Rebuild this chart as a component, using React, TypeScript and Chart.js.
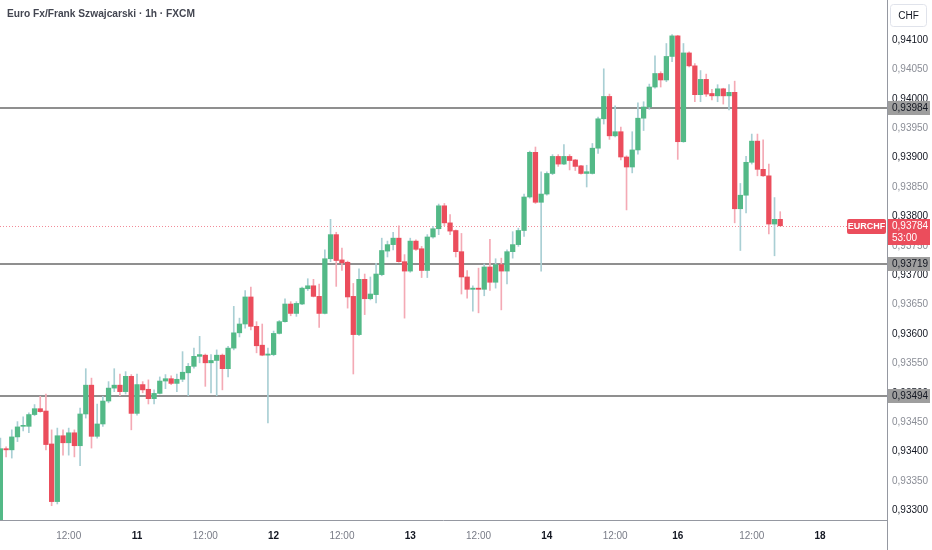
import React, { useEffect, useRef } from "react";
import { Chart, registerables } from "chart.js";

Chart.register(...registerables);

// ---- data (EUR/CHF, 1h candles) ----
const opens = [
  0.93259, 0.93405, 0.93403, 0.93425, 0.93443, 0.93443, 0.93463, 0.93473, 0.93469, 0.93413,
  0.93315, 0.93427, 0.93415, 0.93432, 0.93410, 0.93464, 0.93513, 0.93426, 0.93447, 0.93486,
  0.93508, 0.93513, 0.93502, 0.93528, 0.93465, 0.93514, 0.93506, 0.93490, 0.93499, 0.93520,
  0.93524, 0.93516, 0.93523, 0.93534, 0.93545, 0.93562, 0.93564, 0.93551, 0.93555, 0.93564,
  0.93541, 0.93576, 0.93602, 0.93617, 0.93663, 0.93613, 0.93581, 0.93564, 0.93565, 0.93601,
  0.93621, 0.93651, 0.93635, 0.93651, 0.93677, 0.93682, 0.93664, 0.93635, 0.93728, 0.93769,
  0.93726, 0.93722, 0.93664, 0.93599, 0.93693, 0.93660, 0.93667, 0.93701, 0.93741, 0.93752,
  0.93763, 0.93723, 0.93707, 0.93758, 0.93745, 0.93708, 0.93765, 0.93779, 0.93818, 0.93789,
  0.93776, 0.93740, 0.93697, 0.93676, 0.93678, 0.93676, 0.93714, 0.93688, 0.93718, 0.93707,
  0.93740, 0.93752, 0.93776, 0.93833, 0.93909, 0.93824, 0.93838, 0.93873, 0.93902, 0.93889,
  0.93902, 0.93896, 0.93886, 0.93873, 0.93873, 0.93916, 0.93966, 0.94004, 0.93937, 0.93944,
  0.93901, 0.93884, 0.93913, 0.93967, 0.93986, 0.94020, 0.94043, 0.94032, 0.94072, 0.94107,
  0.93927, 0.94078, 0.94056, 0.94007, 0.94033, 0.94009, 0.94005, 0.94017, 0.94005, 0.94011,
  0.93813, 0.93836, 0.93892, 0.93928, 0.93880, 0.93869, 0.93787, 0.93795,
];
const highs = [
  0.93423, 0.93408, 0.93437, 0.93451, 0.93459, 0.93466, 0.93480, 0.93494, 0.93498, 0.93437,
  0.93440, 0.93437, 0.93440, 0.93437, 0.93474, 0.93541, 0.93525, 0.93481, 0.93494, 0.93519,
  0.93541, 0.93532, 0.93536, 0.93531, 0.93532, 0.93519, 0.93522, 0.93505, 0.93527, 0.93531,
  0.93529, 0.93532, 0.93570, 0.93550, 0.93576, 0.93596, 0.93566, 0.93565, 0.93573, 0.93566,
  0.93579, 0.93647, 0.93627, 0.93674, 0.93680, 0.93621, 0.93617, 0.93576, 0.93605, 0.93623,
  0.93660, 0.93655, 0.93655, 0.93680, 0.93694, 0.93693, 0.93685, 0.93743, 0.93795, 0.93773,
  0.93746, 0.93724, 0.93686, 0.93711, 0.93702, 0.93697, 0.93720, 0.93763, 0.93758, 0.93773,
  0.93784, 0.93735, 0.93763, 0.93760, 0.93749, 0.93769, 0.93783, 0.93821, 0.93822, 0.93803,
  0.93777, 0.93771, 0.93708, 0.93682, 0.93712, 0.93719, 0.93761, 0.93728, 0.93729, 0.93743,
  0.93774, 0.93780, 0.93838, 0.93911, 0.93918, 0.93876, 0.93876, 0.93905, 0.93905, 0.93922,
  0.93905, 0.93897, 0.93887, 0.93887, 0.93924, 0.93969, 0.94051, 0.94008, 0.93988, 0.93952,
  0.93903, 0.93944, 0.93993, 0.93995, 0.94025, 0.94073, 0.94046, 0.94094, 0.94109, 0.94108,
  0.94094, 0.94080, 0.94060, 0.94048, 0.94042, 0.94016, 0.94024, 0.94018, 0.94024, 0.94030,
  0.93856, 0.93902, 0.93940, 0.93940, 0.93930, 0.93889, 0.93832, 0.93808,
];
const lows = [
  0.93250, 0.93391, 0.93389, 0.93417, 0.93435, 0.93432, 0.93461, 0.93467, 0.93403, 0.93308,
  0.93311, 0.93394, 0.93394, 0.93391, 0.93376, 0.93457, 0.93406, 0.93423, 0.93443, 0.93483,
  0.93502, 0.93495, 0.93498, 0.93437, 0.93462, 0.93500, 0.93481, 0.93481, 0.93498, 0.93507,
  0.93514, 0.93502, 0.93519, 0.93495, 0.93542, 0.93551, 0.93511, 0.93500, 0.93495, 0.93505,
  0.93527, 0.93573, 0.93595, 0.93610, 0.93607, 0.93568, 0.93563, 0.93449, 0.93563, 0.93600,
  0.93620, 0.93631, 0.93630, 0.93650, 0.93674, 0.93663, 0.93611, 0.93634, 0.93723, 0.93681,
  0.93708, 0.93644, 0.93532, 0.93597, 0.93633, 0.93658, 0.93653, 0.93699, 0.93731, 0.93743,
  0.93722, 0.93627, 0.93705, 0.93742, 0.93696, 0.93696, 0.93763, 0.93769, 0.93784, 0.93769,
  0.93731, 0.93668, 0.93661, 0.93639, 0.93636, 0.93665, 0.93674, 0.93678, 0.93641, 0.93685,
  0.93729, 0.93749, 0.93766, 0.93831, 0.93822, 0.93707, 0.93836, 0.93871, 0.93885, 0.93888,
  0.93879, 0.93878, 0.93872, 0.93850, 0.93872, 0.93907, 0.93957, 0.93931, 0.93935, 0.93896,
  0.93811, 0.93874, 0.93906, 0.93946, 0.93982, 0.94018, 0.94020, 0.94029, 0.94063, 0.93897,
  0.93926, 0.94054, 0.93995, 0.93995, 0.94004, 0.93998, 0.93995, 0.93991, 0.93981, 0.93789,
  0.93742, 0.93806, 0.93889, 0.93869, 0.93868, 0.93770, 0.93733, 0.93784,
];
const closes = [
  0.93405, 0.93403, 0.93425, 0.93442, 0.93444, 0.93463, 0.93473, 0.93468, 0.93412, 0.93315,
  0.93427, 0.93415, 0.93432, 0.93410, 0.93464, 0.93513, 0.93426, 0.93447, 0.93486, 0.93508,
  0.93513, 0.93502, 0.93528, 0.93465, 0.93514, 0.93505, 0.93490, 0.93499, 0.93520, 0.93524,
  0.93516, 0.93523, 0.93535, 0.93545, 0.93562, 0.93565, 0.93551, 0.93555, 0.93564, 0.93541,
  0.93576, 0.93602, 0.93617, 0.93663, 0.93613, 0.93580, 0.93564, 0.93566, 0.93601, 0.93621,
  0.93651, 0.93635, 0.93652, 0.93678, 0.93682, 0.93664, 0.93635, 0.93728, 0.93769, 0.93725,
  0.93721, 0.93663, 0.93599, 0.93693, 0.93660, 0.93668, 0.93702, 0.93742, 0.93752, 0.93763,
  0.93723, 0.93707, 0.93758, 0.93744, 0.93708, 0.93765, 0.93779, 0.93818, 0.93789, 0.93775,
  0.93740, 0.93697, 0.93676, 0.93678, 0.93676, 0.93714, 0.93688, 0.93718, 0.93707, 0.93740,
  0.93752, 0.93776, 0.93833, 0.93909, 0.93824, 0.93838, 0.93873, 0.93902, 0.93889, 0.93902,
  0.93895, 0.93885, 0.93873, 0.93876, 0.93916, 0.93966, 0.94004, 0.93937, 0.93944, 0.93901,
  0.93884, 0.93913, 0.93967, 0.93986, 0.94020, 0.94043, 0.94032, 0.94072, 0.94107, 0.93927,
  0.94078, 0.94056, 0.94007, 0.94033, 0.94008, 0.94005, 0.94017, 0.94005, 0.94011, 0.93813,
  0.93836, 0.93892, 0.93928, 0.93880, 0.93869, 0.93787, 0.93795, 0.93784,
];

const xTickIndex = [12, 24, 36, 48, 60, 72, 84, 96, 108, 119, 132, 144];
const xTickLabels = ["12:00", "11", "12:00", "12", "12:00", "13", "12:00", "14", "12:00", "16", "12:00", "18"];
const priceTicks = [
  0.933, 0.9335, 0.934, 0.9345, 0.935, 0.9355, 0.936, 0.9365, 0.937, 0.9375, 0.938, 0.9385,
  0.939, 0.9395, 0.94, 0.9405, 0.941,
];
const levelPrices = [0.93984, 0.93719, 0.93494];
const lastPrice = 0.93784;
const symbol = "EURCHF";
const countdown = "53:00";
const currency = "CHF";
const title = "Euro Fx/Frank Szwajcarski \u00b7 1h \u00b7 FXCM";

// ---- styling ----
const UP = "#53b987";
const DOWN = "#eb4d5c";
const UP_WICK = "#a9cfd4";
const DOWN_WICK = "#f4aab5";
const FONT = "'Liberation Sans', 'DejaVu Sans', sans-serif";

const fmt = (v: number) => v.toFixed(5).replace(".", ",");

function roundRect(ctx: CanvasRenderingContext2D, x: number, y: number, w: number, h: number, r: number) {
  ctx.beginPath();
  ctx.moveTo(x + r, y);
  ctx.lineTo(x + w - r, y);
  ctx.quadraticCurveTo(x + w, y, x + w, y + r);
  ctx.lineTo(x + w, y + h - r);
  ctx.quadraticCurveTo(x + w, y + h, x + w - r, y + h);
  ctx.lineTo(x + r, y + h);
  ctx.quadraticCurveTo(x, y + h, x, y + h - r);
  ctx.lineTo(x, y + r);
  ctx.quadraticCurveTo(x, y, x + r, y);
  ctx.closePath();
}

const overlayPlugin = {
  id: "tvOverlay",
  beforeDatasetsDraw(chart: any) {
    const { ctx, chartArea, scales } = chart;
    const y = scales.y;
    ctx.save();
    ctx.strokeStyle = "#8f8f8f";
    ctx.lineWidth = 2;
    levelPrices.forEach((p) => {
      const py = Math.round(y.getPixelForValue(p));
      ctx.beginPath();
      ctx.moveTo(chartArea.left, py);
      ctx.lineTo(chartArea.right, py);
      ctx.stroke();
    });
    const ly = Math.round(y.getPixelForValue(lastPrice)) + 0.5;
    ctx.strokeStyle = "#f28b98";
    ctx.lineWidth = 1;
    ctx.setLineDash([1, 2]);
    ctx.beginPath();
    ctx.moveTo(chartArea.left, ly);
    ctx.lineTo(chartArea.right, ly);
    ctx.stroke();
    ctx.restore();
  },
  afterDraw(chart: any) {
    const { ctx, chartArea, scales, height } = chart;
    const y = scales.y;
    ctx.save();
    ctx.strokeStyle = "#9598a1";
    ctx.lineWidth = 1;
    ctx.beginPath();
    ctx.moveTo(chartArea.right + 0.5, 0);
    ctx.lineTo(chartArea.right + 0.5, height);
    ctx.moveTo(0, chartArea.bottom + 0.5);
    ctx.lineTo(chartArea.right, chartArea.bottom + 0.5);
    ctx.stroke();

    ctx.fillStyle = "#434651";
    ctx.font = `bold 10.2px ${FONT}`;
    ctx.textAlign = "left";
    ctx.textBaseline = "middle";
    ctx.fillText(title, 7, 14);

    ctx.strokeStyle = "#e0e3eb";
    roundRect(ctx, chartArea.right + 3.5, 4.5, 36, 22, 3);
    ctx.stroke();
    ctx.fillStyle = "#131722";
    ctx.font = `10px ${FONT}`;
    ctx.textAlign = "center";
    ctx.fillText(currency, chartArea.right + 21.5, 16);

    levelPrices.forEach((p) => {
      const py = Math.round(y.getPixelForValue(p));
      ctx.fillStyle = "#9e9e9e";
      ctx.fillRect(chartArea.right + 1, py - 7, 42, 14);
      ctx.fillStyle = "#131722";
      ctx.font = `10px ${FONT}`;
      ctx.textAlign = "left";
      ctx.fillText(fmt(p), chartArea.right + 5, py + 0.5);
    });

    const ly = Math.round(y.getPixelForValue(lastPrice));
    ctx.fillStyle = DOWN;
    ctx.fillRect(chartArea.right + 1, ly - 7, 42, 26);
    ctx.fillStyle = "#ffffff";
    ctx.font = `10px ${FONT}`;
    ctx.textAlign = "left";
    ctx.fillText(fmt(lastPrice), chartArea.right + 5, ly + 0.5);
    ctx.fillText(countdown, chartArea.right + 5, ly + 12.5);

    ctx.fillStyle = DOWN;
    roundRect(ctx, chartArea.right - 40, ly - 7, 39, 15, 2);
    ctx.fill();
    ctx.fillStyle = "#ffffff";
    ctx.font = `bold 9px ${FONT}`;
    ctx.textAlign = "center";
    ctx.fillText(symbol, chartArea.right - 20.5, ly + 0.5);
    ctx.restore();
  },
};

export default function App() {
  const ref = useRef<HTMLCanvasElement>(null);
  useEffect(() => {
    document.body.style.margin = "0";
    const idx = opens.map((_, i) => i);
    const up = idx.map((i) => closes[i] >= opens[i]);
    const chart = new Chart(ref.current!, {
      type: "bar",
      data: {
        datasets: [
          {
            label: "body",
            data: idx.map((i) => ({ x: i, y: [opens[i], closes[i]] })) as any,
            backgroundColor: idx.map((i) => (up[i] ? UP : DOWN)),
            borderWidth: 0,
            barThickness: 4.6,
            minBarLength: 1,
            grouped: false,
            order: 0,
          } as any,
          {
            label: "wick",
            data: idx.map((i) => ({ x: i, y: [lows[i], highs[i]] })) as any,
            backgroundColor: idx.map((i) => (up[i] ? UP_WICK : DOWN_WICK)),
            borderWidth: 0,
            barThickness: 1,
            grouped: false,
            order: 1,
          } as any,
        ],
      },
      options: {
        animation: false,
        responsive: false,
        devicePixelRatio: 1,
        layout: { padding: 0 },
        plugins: { legend: { display: false }, tooltip: { enabled: false } },
        events: [],
        scales: {
          x: {
            type: "linear",
            min: -0.07,
            max: 155.76,
            offset: false,
            grid: { display: false, drawTicks: false },
            border: { display: false },
            afterBuildTicks: (s: any) => {
              s.ticks = xTickIndex.map((v) => ({ value: v }));
            },
            afterFit: (s: any) => {
              s.height = 30;
              s.paddingLeft = 0;
              s.paddingRight = 0;
            },
            ticks: {
              autoSkip: false,
              maxRotation: 0,
              padding: 10,
              callback: (_v: any, i: number) => xTickLabels[i],
              font: (c: any) => ({
                family: FONT,
                size: 10,
                weight: xTickLabels[c.index] && xTickLabels[c.index].includes(":") ? "normal" : "bold",
              }),
              color: (c: any) =>
                xTickLabels[c.index] && xTickLabels[c.index].includes(":") ? "#787b86" : "#131722",
            },
          } as any,
          y: {
            type: "linear",
            position: "right",
            min: 0.932837,
            max: 0.94168,
            grid: { display: false, drawTicks: false },
            border: { display: false },
            afterBuildTicks: (s: any) => {
              s.ticks = priceTicks.map((v) => ({ value: v }));
            },
            afterFit: (s: any) => {
              s.width = 45;
              s.paddingTop = 0;
              s.paddingBottom = 0;
            },
            ticks: {
              padding: 5,
              callback: (v: any) => fmt(Number(v)),
              font: { family: FONT, size: 10 },
              color: (c: any) => (c.index % 2 === 0 ? "#131722" : "#8a8d96"),
            },
          } as any,
        },
      },
      plugins: [overlayPlugin],
    });
    return () => chart.destroy();
  }, []);
  return (
    <div style={{ width: 932, height: 550, background: "#ffffff" }}>
      <canvas ref={ref} width={932} height={550} />
    </div>
  );
}
